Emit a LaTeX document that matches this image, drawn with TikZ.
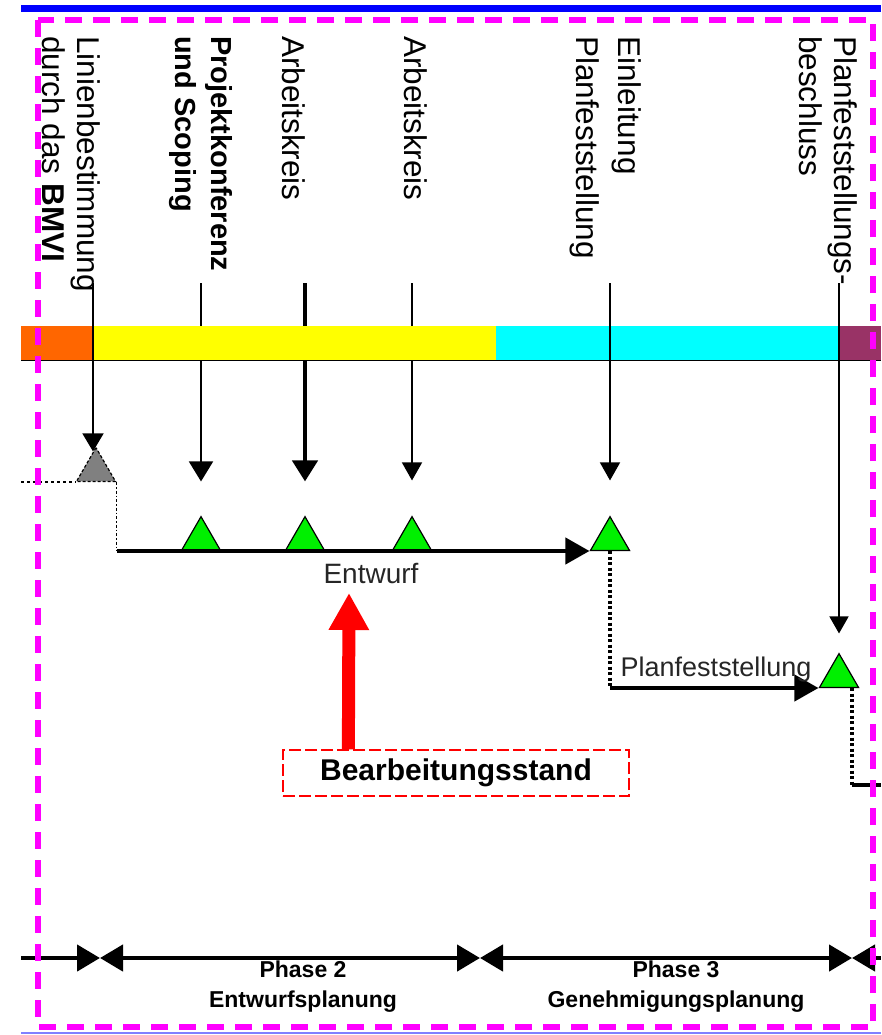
\documentclass[tikz,border=0pt]{standalone}
\usepackage{fontspec}
\setmainfont{Liberation Sans}
\definecolor{barorange}{HTML}{FF6600}
\definecolor{baryellow}{HTML}{FFFF00}
\definecolor{barcyan}{HTML}{00FFFF}
\definecolor{barpurple}{HTML}{993366}
\definecolor{msgreen}{HTML}{00F000}
\definecolor{framemagenta}{HTML}{FF00FF}
\usetikzlibrary{arrows.meta, shapes.geometric, positioning, calc}

\tikzset{
  vlabel/.style={rotate=-90, anchor=north west, align=left, inner sep=0pt,
    font=\fontsize{31.5}{35}\selectfont},
  milestone/.style={regular polygon, regular polygon sides=3, minimum size=45pt,
    inner sep=0pt, draw, line width=1.2pt, fill=msgreen, anchor=side 2},
  evt/.style={line width=1.5pt, -{Triangle[width=20pt,length=18pt]}},
  track/.style={line width=4pt, -{Triangle[width=26pt,length=24pt]}},
  dotline/.style={line width=4.5pt, dash pattern=on 3pt off 2.5pt},
  phaseline/.style={line width=4.5pt, >={Triangle[width=26pt,length=23pt]}},
  phaselabel/.style={anchor=north, align=center, inner sep=0pt,
    font=\fontsize{23}{30}\selectfont\bfseries},
  tracklabel/.style={anchor=base, inner sep=0pt, text=black!85,
    font=\fontsize{28}{28}\selectfont},
}

\begin{document}
\begin{tikzpicture}[x=1pt, y=-1pt]
      \useasboundingbox (0,0) rectangle (881,1035);
      % Frame lines
      \draw[blue, line width=7pt] (21,8.5) -- (881,8.5);
      \draw[blue!50, line width=1.5pt] (21,1033) -- (881,1033);
      % Milestones
      \node[milestone, fill=gray, densely dashed] (m0) at (96,482) {};
      \foreach \n/\x/\y in {m1/201/551, m2/305/551, m3/412/551, m4/610/551, m5/839/688} {
        \node[milestone] (\n) at (\x,\y) {};
      }
      % Event start points
      \foreach \n/\x in {e0/93, e1/201, e2/305, e3/412, e4/610, e5/839} {
        \coordinate (\n) at (\x,283);
      }
      % Events behind the bar
      \draw[evt, line width=1.8pt, -{Triangle[width=24pt,length=20pt]}, shorten >=34pt]
        (e1) -- (e1 |- m1.north);
      \draw[evt, line width=4.5pt, -{Triangle[width=25pt,length=21pt]}, shorten >=34pt]
        (e2) -- (e2 |- m2.north);
      \draw[evt, shorten >=35pt] (e3) -- (e3 |- m3.north);
      % Phase bar
      \foreach \xa/\xb/\col in {21/93/barorange, 93/496/baryellow, 496/838/barcyan, 838/881/barpurple} {
        \fill[\col] (\xa,326) rectangle (\xb,360);
      }
      \draw[line width=1pt] (21,360) -- (881,360);
      % Events over the bar
      \draw[evt, -{Triangle[width=21pt,length=18pt]}, shorten >=-5pt] (e0) -- (e0 |- m0.north);
      \draw[evt, shorten >=35pt] (e4) -- (e4 |- m4.north);
      \draw[evt, -{Triangle[width=19pt,length=17pt]}, shorten >=19pt] (e5) -- (e5 |- m5.north);
      % Event labels
      \node[vlabel] (linien) at (101,36) {Linienbestimmung\\durch das \textbf{BMVI}};
      \node[vlabel, font=\fontsize{29}{36}\selectfont\bfseries] (projekt) at (233,36)
        {Projektkonferenz\\und Scoping};
      \node[vlabel] (ak1) at (306,36) {Arbeitskreis};
      \node[vlabel] (ak2) at (428,36) {Arbeitskreis};
      \node[vlabel, font=\fontsize{31.5}{42}\selectfont] (einl) at (642,36)
        {Einleitung\\Planfeststellung};
      \node[vlabel] (beschl) at (858,36) {Planfeststellungs-\\beschluss};
      % Schedule
      \coordinate (w0) at (21,482);
      \draw[line width=1.2pt, dashed] (w0) -- (m0.corner 2);
      \draw[line width=1.5pt, dash dot] (m0.corner 3) -- (m0.corner 3 |- m1.side 2) coordinate (s0);
      \draw[track] (s0) -- (m4.corner 2);
      \node[tracklabel] (entwurf) at (371,583) {Entwurf};
      \draw[dotline] (m4.side 2) -- (m4.side 2 |- m5.side 2) coordinate (s1);
      \draw[track] (s1) -- (m5.corner 2);
      \node[tracklabel, font=\fontsize{27}{27}\selectfont] (planf) at (716,676) {Planfeststellung};
      \draw[dotline] ($(m5.side 2)+(13,0)$) -- ++(0,97) coordinate (s2);
      \coordinate (east0) at (881,785);
      \draw[line width=4pt] (s2) -- (east0);
      % Status
      \node[draw=red, line width=1.2pt, dash pattern=on 12pt off 4pt, minimum width=346pt,
        minimum height=46pt, inner sep=0pt, font=\fontsize{30}{30}\selectfont\bfseries]
        (stand) at (456,773) {Bearbeitungsstand};
      \coordinate (standtip) at (349,593);
      \draw[red, line width=13pt, -{Triangle[width=38pt,length=37pt]}]
        ($(stand.north west)!0.19!(stand.north east)$) -- (standtip);
      % Phases
      \foreach \n/\x in {ph0/21, ph1/100, ph2/480, ph3/852, ph4/881} {
        \coordinate (\n) at (\x,958);
      }
      \draw[phaseline, ->] (ph0) -- (ph1);
      \draw[phaseline, <->] (ph1) -- (ph2);
      \draw[phaseline, <->] (ph2) -- (ph3);
      \draw[phaseline, <-] (ph3) -- (ph4);
      \node[phaselabel] (phase2) at (303,961) {Phase 2\\Entwurfsplanung};
      \node[phaselabel] (phase3) at (676,961) {Phase 3\\Genehmigungsplanung};
      % Dashed frame
      \draw[framemagenta, line width=5.5pt, dash pattern=on 17pt off 11pt] (38,20) rectangle (873,1027);
    \end{tikzpicture}
\end{document}
